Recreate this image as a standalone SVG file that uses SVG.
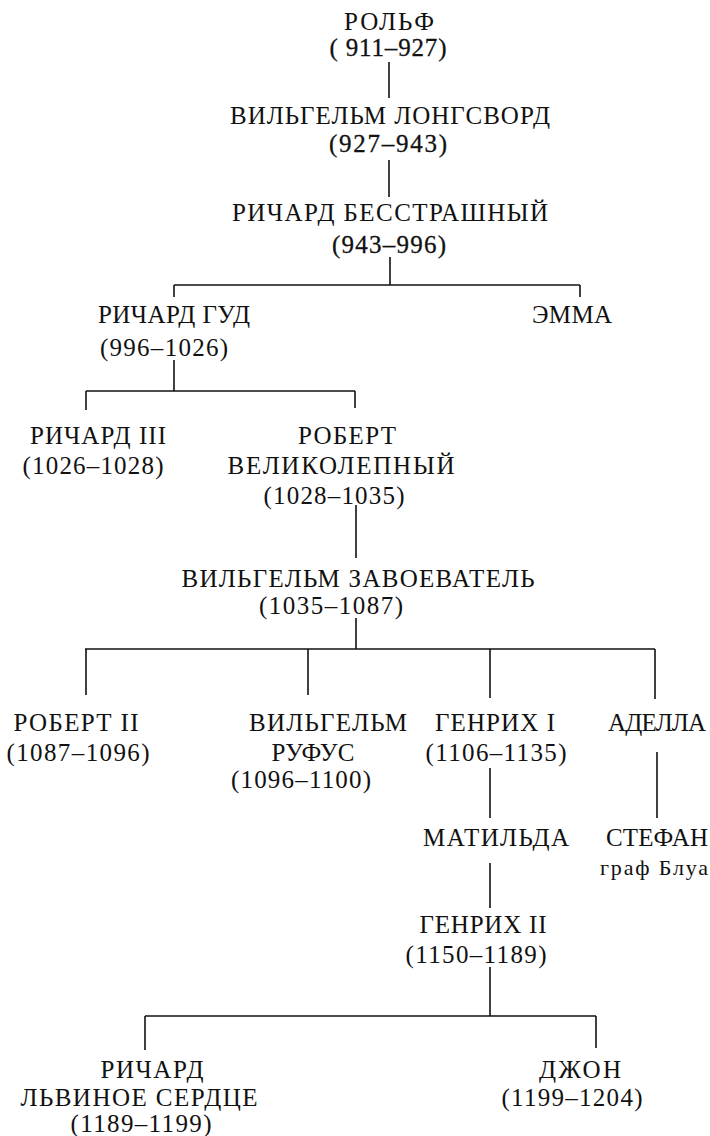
<svg xmlns="http://www.w3.org/2000/svg" width="710" height="1136" viewBox="0 0 710 1136">
<style>
text{font-family:"Liberation Serif","Times New Roman",serif;font-size:25px;fill:#111;text-anchor:middle}
.s{font-size:22px}
.h{stroke:#111;stroke-width:0.3}
.c line{stroke:#111;stroke-width:1.6;fill:none}
</style>
<rect width="710" height="1136" fill="#fff"/>
<g class="c" id="connectors">
<line x1="389" y1="62" x2="389" y2="98"/>
<line x1="389" y1="160" x2="389" y2="197"/>
<line x1="390" y1="257" x2="390" y2="285"/>
<line x1="174" y1="285" x2="580" y2="285"/>
<line x1="174" y1="285" x2="174" y2="297"/>
<line x1="580" y1="285" x2="580" y2="297"/>
<line x1="174" y1="360" x2="174" y2="391"/>
<line x1="86" y1="391" x2="355" y2="391"/>
<line x1="86" y1="391" x2="86" y2="410"/>
<line x1="355" y1="391" x2="355" y2="408"/>
<line x1="356" y1="505" x2="356" y2="558"/>
<line x1="356" y1="618" x2="356" y2="649"/>
<line x1="85" y1="649" x2="655" y2="649"/>
<line x1="86" y1="649" x2="86" y2="695"/>
<line x1="308" y1="649" x2="308" y2="695"/>
<line x1="490" y1="649" x2="490" y2="698"/>
<line x1="655" y1="649" x2="655" y2="699"/>
<line x1="490" y1="768" x2="490" y2="818"/>
<line x1="657" y1="752" x2="657" y2="818"/>
<line x1="490" y1="863" x2="490" y2="908"/>
<line x1="490" y1="967" x2="490" y2="1016"/>
<line x1="145" y1="1016" x2="596" y2="1016"/>
<line x1="145" y1="1016" x2="145" y2="1050"/>
<line x1="596" y1="1016" x2="596" y2="1048"/>
</g>
<g id="rolf">
<text x="389" y="30" textLength="90" lengthAdjust="spacing">РОЛЬФ</text>
<text class="h" x="388" y="56" textLength="117" lengthAdjust="spacing">( 911–927)</text>
</g>
<g id="wilhelm-longsword">
<text x="390" y="124" textLength="320" lengthAdjust="spacing">ВИЛЬГЕЛЬМ ЛОНГСВОРД</text>
<text class="h" x="388" y="152" textLength="118" lengthAdjust="spacing">(927–943)</text>
</g>
<g id="richard-fearless">
<text x="390" y="221" textLength="316" lengthAdjust="spacing">РИЧАРД БЕССТРАШНЫЙ</text>
<text class="h" x="389" y="253" textLength="114" lengthAdjust="spacing">(943–996)</text>
</g>
<g id="richard-good">
<text x="174" y="323" textLength="152" lengthAdjust="spacing">РИЧАРД ГУД</text>
<text x="164" y="356" textLength="128" lengthAdjust="spacing">(996–1026)</text>
</g>
<g id="emma">
<text x="572" y="323" textLength="80" lengthAdjust="spacing">ЭММА</text>
</g>
<g id="richard-iii">
<text x="98" y="444" textLength="136" lengthAdjust="spacing">РИЧАРД III</text>
<text x="93" y="474" textLength="141" lengthAdjust="spacing">(1026–1028)</text>
</g>
<g id="robert-magnificent">
<text x="347" y="444" textLength="98" lengthAdjust="spacing">РОБЕРТ</text>
<text x="341" y="474" textLength="227" lengthAdjust="spacing">ВЕЛИКОЛЕПНЫЙ</text>
<text x="334" y="504" textLength="141" lengthAdjust="spacing">(1028–1035)</text>
</g>
<g id="william-conqueror">
<text x="358" y="587" textLength="353" lengthAdjust="spacing">ВИЛЬГЕЛЬМ ЗАВОЕВАТЕЛЬ</text>
<text x="331" y="614" textLength="144" lengthAdjust="spacing">(1035–1087)</text>
</g>
<g id="robert-ii">
<text x="76" y="731" textLength="125" lengthAdjust="spacing">РОБЕРТ II</text>
<text x="78" y="761" textLength="143" lengthAdjust="spacing">(1087–1096)</text>
</g>
<g id="william-rufus">
<text x="328" y="731" textLength="158" lengthAdjust="spacing">ВИЛЬГЕЛЬМ</text>
<text x="313" y="761" textLength="83" lengthAdjust="spacing">РУФУС</text>
<text x="301" y="788" textLength="140" lengthAdjust="spacing">(1096–1100)</text>
</g>
<g id="henry-i">
<text x="495" y="731" textLength="120" lengthAdjust="spacing">ГЕНРИХ I</text>
<text x="496" y="761" textLength="141" lengthAdjust="spacing">(1106–1135)</text>
</g>
<g id="adela">
<text x="657" y="731" textLength="98" lengthAdjust="spacing">АДЕЛЛА</text>
</g>
<g id="matilda">
<text x="496" y="846" textLength="146" lengthAdjust="spacing">МАТИЛЬДА</text>
</g>
<g id="stephen">
<text x="657" y="846" textLength="102" lengthAdjust="spacing">СТЕФАН</text>
<text class="s" x="654" y="875" textLength="108" lengthAdjust="spacing">граф Блуа</text>
</g>
<g id="henry-ii">
<text x="483" y="933" textLength="127" lengthAdjust="spacing">ГЕНРИХ II</text>
<text x="476" y="963" textLength="141" lengthAdjust="spacing">(1150–1189)</text>
</g>
<g id="richard-lionheart">
<text x="152" y="1078" textLength="103" lengthAdjust="spacing">РИЧАРД</text>
<text x="139" y="1106" textLength="237" lengthAdjust="spacing">ЛЬВИНОЕ СЕРДЦЕ</text>
<text x="141" y="1132" textLength="141" lengthAdjust="spacing">(1189–1199)</text>
</g>
<g id="john">
<text x="580" y="1078" textLength="82" lengthAdjust="spacing">ДЖОН</text>
<text x="572" y="1106" textLength="141" lengthAdjust="spacing">(1199–1204)</text>
</g>
</svg>
